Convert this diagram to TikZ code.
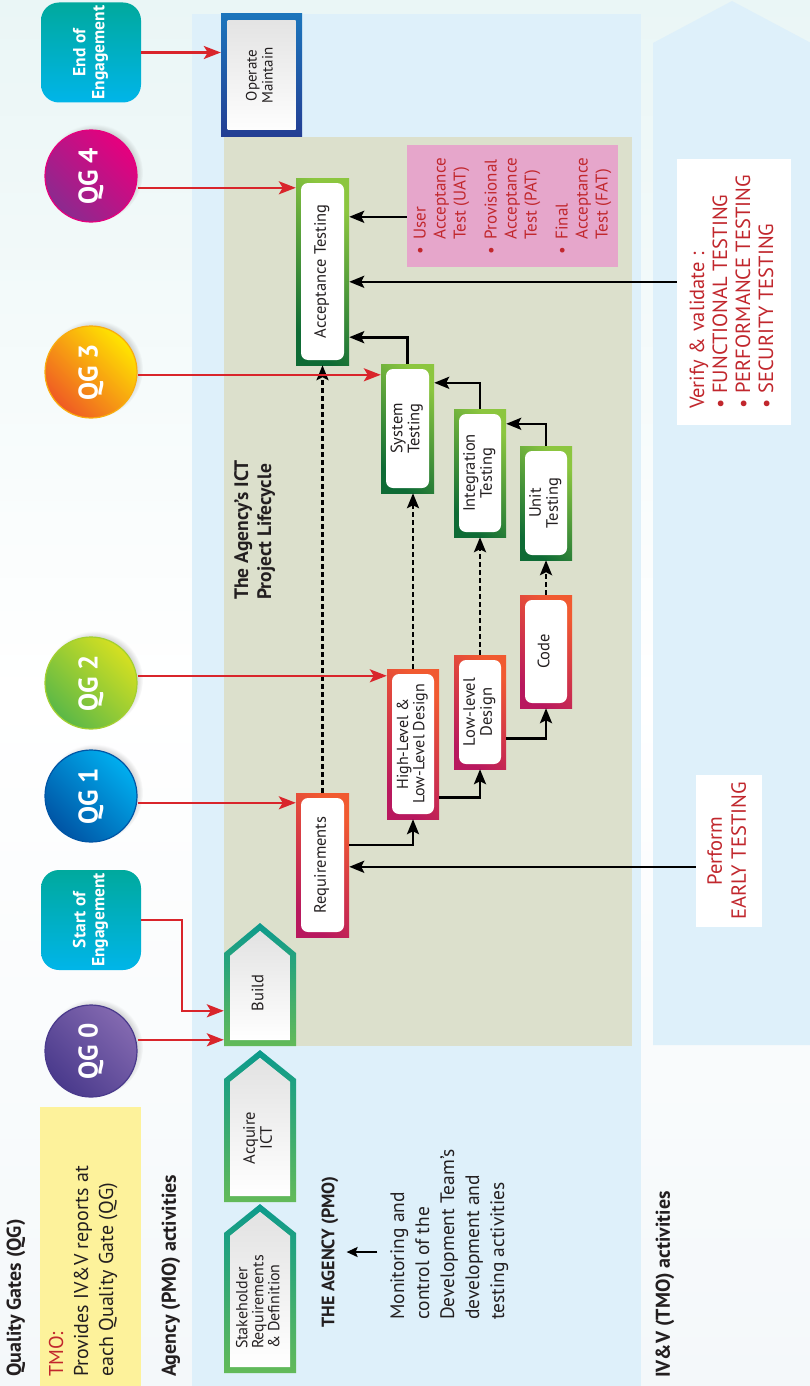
\documentclass[tikz,border=0pt]{standalone}
\usepackage{graphicx}
\usepackage{fontspec}
\setmainfont{PT Sans}
\usetikzlibrary{arrows.meta,shadows,calc}
\newcommand\rtc[1]{\rotatebox{90}{\begin{tabular}{@{}c@{}}#1\end{tabular}}}
\newcommand\rtl[1]{\rotatebox{90}{\begin{tabular}{@{}l@{}}#1\end{tabular}}}
\newcommand\fs[2]{\fontsize{#1}{#2}\selectfont}
\newcommand\pentshape[3]{%
  \shade[top color=pTop,bottom color=pBot] (224,#2) -- (260,#1) -- (296,#2) -- (296,#3) -- (224,#3) -- cycle;
  \shade[top color=grayA,bottom color=white] (230,#2+2.8) -- (260,#1+7.8) -- (290,#2+2.8) -- (290,#3-6) -- (230,#3-6) -- cycle;}
\definecolor{bgtop}{HTML}{EAF6F6}
\definecolor{bgbot}{HTML}{F4F8FA}
\definecolor{pmoblue}{HTML}{DEF0FA}
\definecolor{olivep}{HTML}{DCE0CC}
\definecolor{pinkbox}{HTML}{E6A6CB}
\definecolor{txtred}{HTML}{C1272D}
\definecolor{txtdark}{HTML}{231F20}
\definecolor{arrred}{HTML}{D9252B}
\definecolor{yelbox}{HTML}{FDF29B}
\definecolor{gLight}{HTML}{8CC63F}
\definecolor{gDark}{HTML}{0E6B35}
\definecolor{rLight}{HTML}{F15A30}
\definecolor{rDark}{HTML}{B8185E}
\definecolor{opTop}{HTML}{1C75BC}
\definecolor{opBot}{HTML}{233E93}
\definecolor{pTop}{HTML}{0C9A8C}
\definecolor{pBot}{HTML}{63BA59}
\definecolor{grayA}{HTML}{E2E2E2}
\definecolor{qfourL}{HTML}{E6007E}
\definecolor{qfourD}{HTML}{8B2A8F}
\definecolor{qthreeL}{HTML}{FFE500}
\definecolor{qthreeD}{HTML}{EF5A24}
\definecolor{qtwoL}{HTML}{D5E021}
\definecolor{qtwoD}{HTML}{5BB847}
\definecolor{qoneL}{HTML}{00AEEF}
\definecolor{qoneD}{HTML}{0055A5}
\definecolor{qzeroL}{HTML}{8369B0}
\definecolor{qzeroD}{HTML}{4A3A8C}
\definecolor{engTop}{HTML}{00A99D}
\definecolor{engBot}{HTML}{00B5E9}
\begin{document}
\begin{tikzpicture}[x=1pt,y=-1pt,
  every node/.append style={text=txtdark},
  redarr/.style={draw=arrred,line width=2.4pt,-{Stealth[length=17pt,width=13pt,inset=4pt]}},
  blkarr/.style={draw=black,line width=2.6pt,-{Stealth[length=15pt,width=12pt,inset=3pt]}},
  dasharr/.style={blkarr,dash pattern=on 4.5pt off 3.5pt},
  smallarr/.style={draw=black,line width=2pt,-{Stealth[length=11pt,width=10pt,inset=2pt]}},
  inwhite/.style={path picture={\fill[white,rounded corners=7pt] ([shift={(5pt,-5pt)}]path picture bounding box.north west) rectangle ([shift={(-5pt,5pt)}]path picture bounding box.south east);}},
  gbox/.style={top color=gLight,bottom color=gDark,shading angle=-45,inwhite,inner sep=0pt,font=\fs{16.5}{17}},
  rbox/.style={top color=rLight,bottom color=rDark,shading angle=-45,inwhite,inner sep=0pt,font=\fs{16.5}{17}},
  qg/.style={circle,minimum size=92pt,inner sep=0pt,font=\bfseries\fs{27}{28},text=white,line width=1.2pt,
     circular drop shadow={shadow xshift=3pt,shadow yshift=3pt,opacity=0.35,shadow scale=1.06}},
  eng/.style={rounded corners=18pt,minimum width=100pt,minimum height=100pt,inner sep=0pt,
     top color=engTop,bottom color=engBot,text=white,font=\bfseries\fs{17.5}{19}},
  pentlabel/.style={minimum width=72pt,inner sep=0pt,font=\fs{16.5}{17}},
  biglabel/.style={anchor=south,inner sep=0pt,font=\bfseries\fs{20}{22}}
]
\useasboundingbox (0,0) rectangle (810,1386);
% background
\shade[top color=bgtop,bottom color=bgbot,middle color=white] (0,0) rectangle (810,1386);
\fill[pmoblue] (192,14) rectangle (641,1386);
\fill[pmoblue] (653,43) -- (732,1) -- (811,43) -- (811,1045) -- (653,1045) -- cycle;
\fill[olivep] (224,137) rectangle (632,1046);
\fill[yelbox] (40,1107) rectangle (141,1386);

% pentagon stages
\pentshape{923}{953}{1046}
\pentshape{1050}{1079}{1202}
\pentshape{1204}{1233}{1373}
\node[pentlabel,minimum height=93pt] (build) at (260,993) {\rtc{Build}};
\node[pentlabel,minimum height=123pt] (acq) at (260,1138) {\rtc{Acquire\\ICT}};
\node[pentlabel,minimum height=140pt,font=\fs{16}{15.5}] (stake) at (260,1302) {\rtl{Stakeholder\\Requirements\\\& Definition}};

% quality gates
\node[eng] (end) at (91,52.5) {\rtc{End of\\Engagement}};
\node[qg,top color=qfourL,bottom color=qfourD,shading angle=-45,draw=qfourL] (qg4) at (91,176) {\rotatebox{90}{QG 4}};
\node[qg,top color=qthreeL,bottom color=qthreeD,shading angle=-45,draw=qthreeL!60!qthreeD] (qg3) at (91,372) {\rotatebox{90}{QG 3}};
\node[qg,top color=qtwoL,bottom color=qtwoD,shading angle=-45,draw=qtwoL!60!qtwoD] (qg2) at (91,683) {\rotatebox{90}{QG 2}};
\node[qg,top color=qoneL,bottom color=qoneD,shading angle=-45,draw=qoneD] (qg1) at (91,796) {\rotatebox{90}{QG 1}};
\node[eng] (start) at (91,920) {\rtc{Start of\\Engagement}};
\node[qg,top color=qzeroL,bottom color=qzeroD,shading angle=-45,draw=qzeroD] (qg0) at (91,1051) {\rotatebox{90}{QG 0}};

% operate / maintain
\node[top color=opTop,bottom color=opBot,minimum width=81pt,minimum height=123pt,inner sep=0pt,font=\fs{15}{16},
  path picture={\shade[top color=grayA,bottom color=white] ([shift={(6.5pt,-7pt)}]path picture bounding box.north west) rectangle ([shift={(-6.5pt,7pt)}]path picture bounding box.south east);}]
  (op) at (261.5,75.5) {\rtc{Operate\\Maintain}};

% lifecycle boxes
\node[gbox,minimum width=53pt,minimum height=187pt] (acc) at (322.5,271.5) {\rtc{Acceptance Testing}};
\node[gbox,minimum width=53pt,minimum height=129pt] (sys) at (407.5,428.5) {\rtc{System\\Testing}};
\node[gbox,minimum width=52pt,minimum height=128pt] (integ) at (480,473) {\rtc{Integration\\Testing}};
\node[gbox,minimum width=52pt,minimum height=114pt] (unit) at (546,503) {\rtc{Unit\\Testing}};
\node[rbox,minimum width=52pt,minimum height=113pt] (code) at (546,651.5) {\rtc{Code}};
\node[rbox,minimum width=52pt,minimum height=114pt] (lld) at (480,712) {\rtc{Low-level\\Design}};
\node[rbox,minimum width=52pt,minimum height=150pt,font=\fs{16}{16}] (hld) at (413,744) {\rtc{High-Level \&\\Low-Level Design}};
\node[rbox,minimum width=53pt,minimum height=144pt] (req) at (322.5,865) {\rtc{Requirements}};

% pink acceptance list
\node[fill=pinkbox,minimum width=211pt,minimum height=122pt,inner sep=0pt,text=txtred,font=\fs{17}{20}] (pink) at (512.5,206)
 {\rotatebox{90}{\begin{tabular}{@{}l@{\hspace{7pt}}l@{}}\textbullet&User\\&Acceptance\\&Test (UAT)\\[11pt]\textbullet&Provisional\\&Acceptance\\&Test (PAT)\\[11pt]\textbullet&Final\\&Acceptance\\&Test (FAT)\end{tabular}}};

% IV&V boxes
\node[fill=white,minimum width=114pt,minimum height=266pt,inner sep=0pt,text=txtred,font=\fs{20.5}{23}] (verify) at (734,292)
 {\rotatebox{90}{\begin{tabular}{@{}l@{\hspace{6pt}}l@{}}\multicolumn{2}{@{}l@{}}{Verify \& validate :}\\\textbullet&FUNCTIONAL TESTING\\\textbullet&PERFORMANCE TESTING\\\textbullet&SECURITY TESTING\end{tabular}}};
\node[fill=white,minimum width=66pt,minimum height=152pt,inner sep=0pt,text=txtred,font=\fs{20.5}{24}] (perform) at (729,851) {\rtc{Perform\\EARLY TESTING}};

% labels
\node[biglabel] (qglabel) at (16,1377) {\rotatebox{90}{Quality Gates (QG)}};
\node[anchor=south,inner sep=0pt,font=\fs{20}{25}] (tmo) at (83,1377) {\rtl{\textcolor{txtred}{TMO:}\\Provides IV\&V reports at\\each Quality Gate (QG)}};
\node[biglabel] (agact) at (171,1377) {\rotatebox{90}{Agency (PMO) activities}};
\node[biglabel] (ivvact) at (665,1378) {\rotatebox{90}{IV\&V (TMO) activities}};
\node[anchor=south,inner sep=0pt,font=\bfseries\fs{19.5}{23}] (lc) at (255,600) {\rtl{The Agency’s ICT\\Project Lifecycle}};
\node[inner sep=0pt,font=\bfseries\fs{18}{20}] (agency) at (330,1252) {\rotatebox{90}{THE AGENCY (PMO)}};
\node[anchor=south,inner sep=0pt,font=\fs{19.5}{25}] (mon) at (449,1320) {\rtl{Monitoring and\\control of the\\Development Team’s\\development and\\testing activities}};

% connectors: monitoring
\draw[smallarr] ([xshift=-9pt]mon.west |- agency.east) -- ([xshift=8pt]agency.east);

% black solid arrows
\coordinate (a1) at ([yshift=-39pt]acc.north east);
\draw[blkarr] (pink.west |- a1) -- (a1);
\coordinate (a2) at ([yshift=-104pt]acc.north east);
\draw[blkarr] (verify.west |- a2) -- (a2);
\draw[blkarr] (sys.north) |- ([yshift=28pt]acc.south east);
\draw[blkarr] (integ.north) |- ([yshift=-19pt]sys.north east);
\draw[blkarr] (unit.north) |- ([yshift=-15pt]integ.north east);
\draw[blkarr] ([yshift=-52pt]req.north east) -| (hld.south);
\draw[blkarr] ([yshift=22pt]hld.south east) -| (lld.south);
\draw[blkarr] ([yshift=31pt]lld.south east) -| (code.south);
\coordinate (a3) at ([yshift=-74pt]req.north east);
\draw[blkarr] (perform.west |- a3) -- (a3);

% dashed arrows
\draw[dasharr] (req.north) -- (acc.south);
\draw[dasharr] (hld.north) -- (hld.north |- sys.south);
\draw[dasharr] (lld.north) -- (integ.south);
\draw[dasharr] (code.north) -- (unit.south);

% red arrows
\draw[redarr] (end.east) -- (end.east -| op.west);
\coordinate (r4) at ([yshift=-10pt]acc.north west);
\draw[redarr] (qg4.east |- r4) -- (r4);
\coordinate (r3) at ([yshift=-11pt]sys.north west);
\draw[redarr] (qg3.east |- r3) -- (r3);
\coordinate (r2) at ([yshift=-7pt]hld.north west);
\draw[redarr] (qg2.east |- r2) -- (r2);
\coordinate (r1) at ([yshift=-10pt]req.north west);
\draw[redarr] (qg1.east |- r1) -- (r1);
\coordinate (rs) at ([yshift=-64.5pt]build.north west);
\draw[redarr] (start.east) -- ++(41,0) |- (rs);
\coordinate (r0) at ([yshift=-93.5pt]build.north west);
\draw[redarr] (qg0.east |- r0) -- (r0);
\end{tikzpicture}
\end{document}
